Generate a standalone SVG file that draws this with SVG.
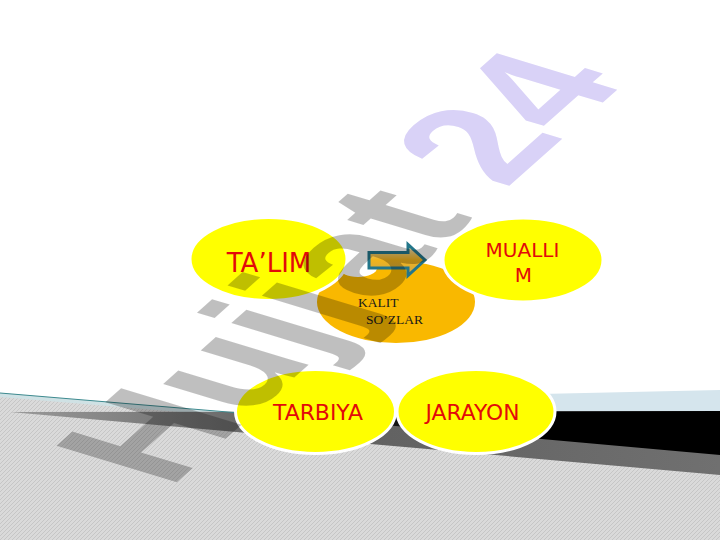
<svg xmlns="http://www.w3.org/2000/svg" width="720" height="540" viewBox="0 0 720 540">
<defs>
<pattern id="hatch" width="4" height="4" patternUnits="userSpaceOnUse">
<rect width="4" height="4" fill="#dadada"/>
<path d="M0,4 L4,0 M-1,1 L1,-1 M3,5 L5,3" stroke="#c6c6c6" stroke-width="1"/>
</pattern>
<linearGradient id="shadowG" x1="0" y1="0" x2="1" y2="0">
<stop offset="0" stop-color="#9a9a9a"/>
<stop offset="0.4" stop-color="#5e5e5e"/>
<stop offset="1" stop-color="#707070"/>
</linearGradient>
<linearGradient id="blackG" x1="240" y1="0" x2="720" y2="0" gradientUnits="userSpaceOnUse">
<stop offset="0" stop-color="#3a3a3a"/>
<stop offset="0.5" stop-color="#000"/>
<stop offset="1" stop-color="#000"/>
</linearGradient>
<linearGradient id="arrowG" x1="0" y1="0" x2="0" y2="1">
<stop offset="0" stop-color="#e6e0d0"/>
<stop offset="0.5" stop-color="#f2b41a"/>
<stop offset="1" stop-color="#c9a550"/>
</linearGradient>
<style>
.yel{fill:#ffff00;stroke:#fff;stroke-width:3}
.lbl{font-family:"DejaVu Sans","Liberation Sans",sans-serif;fill:#e20a0a;text-anchor:middle}
.kw{font-family:"Liberation Serif","DejaVu Serif",serif;font-size:13.5px;fill:#1a1a1a}
.wm{font-family:"Liberation Sans",Arial,sans-serif;font-weight:bold;font-size:100px}
</style>
</defs>
<rect width="720" height="540" fill="#fff"/>
<g id="background">
<path d="M0,393 L240,414 L720,412 L720,540 L0,540 Z" fill="url(#hatch)"/>
<path d="M0,393 L240,413 L240,417 L0,397 Z" fill="#cfe1e4"/>
<path d="M540,394 L720,390 L720,413 L540,413 Z" fill="#d5e5ed"/>
<path d="M10,412 L720,411 L720,475 Z" fill="url(#shadowG)"/>
<path d="M240,412 L720,411 L720,455 Z" fill="url(#blackG)"/>
<line x1="0" y1="393" x2="240" y2="413" stroke="#3d8a8f" stroke-width="1"/>
</g>
<g id="node-kalit">
<ellipse cx="396" cy="302" rx="79" ry="41" fill="#f9b800"/>
<ellipse cx="358" cy="268" rx="19" ry="9" fill="#fff"/>
<text class="kw" x="358" y="307">KALIT</text>
<text class="kw" x="366" y="324">SO’ZLAR</text>
</g>
<g id="node-talim">
<ellipse class="yel" cx="268.5" cy="259" rx="78.5" ry="41.5"/>
<text class="lbl" x="269" y="272" font-size="26">TA’LIM</text>
</g>
<g id="node-muallim">
<ellipse class="yel" cx="523" cy="260" rx="80" ry="42"/>
<text class="lbl" x="522.5" y="257" font-size="20">MUALLI</text>
<text class="lbl" x="523.5" y="282" font-size="20">M</text>
</g>
<g id="node-tarbiya">
<ellipse class="yel" cx="315.5" cy="411.5" rx="80" ry="42"/>
<text class="lbl" x="318" y="420" font-size="22" textLength="90" lengthAdjust="spacingAndGlyphs">TARBIYA</text>
</g>
<g id="node-jarayon">
<ellipse class="yel" cx="476" cy="411.5" rx="79" ry="42"/>
<text class="lbl" x="472.5" y="420" font-size="22" textLength="94" lengthAdjust="spacingAndGlyphs">JARAYON</text>
</g>
<g id="connectors">
<path d="M369,252.5 L408,252.5 L408,244.5 L425,260 L408,275.5 L408,268 L369,268 Z" fill="url(#arrowG)" stroke="#23768a" stroke-width="3" stroke-linejoin="miter"/>
</g>
<g id="watermark" transform="matrix(1.1,-0.98,1.75,0.53,169.4,488.7)">
<text class="wm" x="0" y="0"><tspan fill="#000" fill-opacity="0.25">Hujjat </tspan><tspan fill="#d9d2f7">24</tspan></text>
</g>
</svg>
